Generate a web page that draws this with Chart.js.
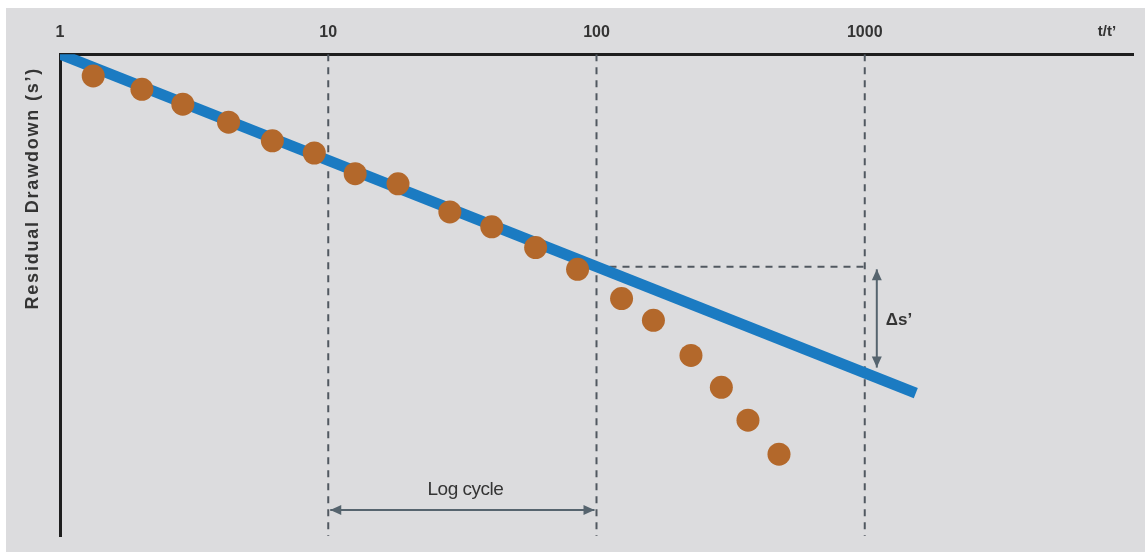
<!DOCTYPE html>
<html>
<head>
<meta charset="utf-8">
<script src="https://cdn.jsdelivr.net/npm/chart.js@4/dist/chart.umd.min.js"></script>
<style>
  html, body { margin: 0; padding: 0; background: #ffffff; }
  #wrap { width: 1145px; height: 552px; }
</style>
</head>
<body>
<div id="wrap"><canvas id="c" width="1145" height="552"></canvas></div>
<script>
// Recovery test: residual drawdown s' against t/t' (log scale)
const timeRatio        = [1.33, 2.02, 2.87, 4.25, 6.19, 8.87, 12.6, 18.2, 28.4, 40.7, 59.3, 85.0, 124, 163, 225, 292, 367, 479];
const residualDrawdown = [0.41, 0.66, 0.94, 1.28, 1.63, 1.86, 2.25, 2.44, 2.97, 3.25, 3.64, 4.05, 4.60, 5.01, 5.67, 6.27, 6.89, 7.53];

// Straight-line fit through the early data
const fitRatio    = [1, 1550];
const fitDrawdown = [0, 6.38];

// Top axis ticks
const tickValues = [1, 10, 100, 1000, 10000];
const tickLabels = ['1', '10', '100', '1000', ''];
const drawdownMax = 9.07;

// Dashed guides
const guideRatios      = [10, 100, 1000];
const levelRatio       = [100, 1000];
const levelDrawdown    = [4, 4];

// Dimension arrows
const logCycleRatio    = [10, 100];
const logCycleDrawdown = 8.58;
const deltaRatio       = 1109;
const deltaDrawdown    = [4.05, 5.9];

const FONT = '"Liberation Sans", Arial, sans-serif';
const INK = '#343434';
const GUIDE = '#515860';
const ARROW = '#56646e';

const pts = (xs, ys) => xs.map((x, i) => ({ x, y: ys[i] }));

function arrowHead(ctx, x, y, angle, len, half) {
  ctx.beginPath();
  ctx.moveTo(x, y);
  ctx.lineTo(x - len * Math.cos(angle) + half * Math.sin(angle), y - len * Math.sin(angle) - half * Math.cos(angle));
  ctx.lineTo(x - len * Math.cos(angle) - half * Math.sin(angle), y - len * Math.sin(angle) + half * Math.cos(angle));
  ctx.closePath();
  ctx.fill();
}

function doubleArrow(ctx, x1, y1, x2, y2) {
  const a = Math.atan2(y2 - y1, x2 - x1);
  ctx.save();
  ctx.strokeStyle = ARROW;
  ctx.fillStyle = ARROW;
  ctx.lineWidth = 2;
  ctx.beginPath();
  ctx.moveTo(x1, y1);
  ctx.lineTo(x2, y2);
  ctx.stroke();
  arrowHead(ctx, x2, y2, a, 11, 5);
  arrowHead(ctx, x1, y1, a + Math.PI, 11, 5);
  ctx.restore();
}

const decorations = {
  id: 'decorations',
  beforeDraw(chart) {
    const ctx = chart.ctx;
    ctx.save();
    ctx.fillStyle = '#dcdcde';
    ctx.fillRect(6, 8, chart.width - 6, chart.height - 8);
    ctx.restore();
  },
  afterDatasetsDraw(chart) {
    const { ctx, chartArea, scales: { x, y } } = chart;

    // Log cycle span
    const ly = y.getPixelForValue(logCycleDrawdown);
    doubleArrow(ctx, x.getPixelForValue(logCycleRatio[0]) + 2, ly, x.getPixelForValue(logCycleRatio[1]) - 2, ly);

    // Δs' span
    const dx = x.getPixelForValue(deltaRatio);
    doubleArrow(ctx, dx, y.getPixelForValue(deltaDrawdown[0]), dx, y.getPixelForValue(deltaDrawdown[1]));

    ctx.save();
    ctx.fillStyle = INK;
    ctx.textBaseline = 'middle';

    ctx.font = '19px ' + FONT;
    ctx.textAlign = 'center';
    ctx.letterSpacing = '-0.5px';
    const midCycle = Math.sqrt(logCycleRatio[0] * logCycleRatio[1]);
    ctx.fillText('Log cycle', x.getPixelForValue(midCycle) + 3, ly - 20);

    ctx.textAlign = 'left';
    ctx.letterSpacing = '0px';
    ctx.font = 'bold 17px ' + FONT;
    ctx.fillText('\u0394s\u2019', dx + 9, y.getPixelForValue((deltaDrawdown[0] + deltaDrawdown[1]) / 2) + 2);

    // Axis names
    ctx.font = 'bold 15px ' + FONT;
    ctx.textAlign = 'center';
    ctx.fillText('t/t\u2019', chartArea.right - 26, chartArea.top - 22);

    ctx.translate(chartArea.left - 27, chartArea.top + 134);
    ctx.rotate(-Math.PI / 2);
    ctx.font = 'bold 18px ' + FONT;
    ctx.letterSpacing = '1.8px';
    ctx.fillText('Residual Drawdown (s\u2019)', 0, 0);
    ctx.restore();
  }
};

const guideSets = guideRatios.map(g => ({
  type: 'line',
  data: [{ x: g, y: 0 }, { x: g, y: drawdownMax }],
  borderColor: GUIDE,
  borderWidth: 2,
  borderDash: [7, 6],
  pointRadius: 0,
  order: 3
}));

new Chart(document.getElementById('c'), {
  data: {
    datasets: [
      {
        type: 'scatter',
        data: pts(timeRatio, residualDrawdown),
        backgroundColor: '#b3682b',
        borderWidth: 0,
        pointRadius: 11.5,
        order: 0
      },
      {
        type: 'line',
        data: pts(fitRatio, fitDrawdown),
        borderColor: '#1b7bc2',
        borderWidth: 11,
        borderCapStyle: 'butt',
        pointRadius: 0,
        clip: 0,
        order: 1
      },
      {
        type: 'line',
        data: pts(levelRatio, levelDrawdown),
        borderColor: GUIDE,
        borderWidth: 2,
        borderDash: [7, 6],
        pointRadius: 0,
        order: 3
      },
      ...guideSets
    ]
  },
  options: {
    responsive: false,
    animation: false,
    events: [],
    layout: { padding: { left: 60, top: 11, right: 8, bottom: 16 } },
    plugins: { legend: { display: false }, tooltip: { enabled: false } },
    scales: {
      x: {
        type: 'logarithmic',
        position: 'top',
        min: 1,
        max: 10000,
        afterBuildTicks: s => { s.ticks = tickValues.map(v => ({ value: v })); },
        ticks: {
          autoSkip: false,
          maxRotation: 0,
          padding: 12,
          color: INK,
          font: { family: FONT, size: 16, weight: 'bold' },
          callback: (v, i) => tickLabels[i]
        },
        grid: { display: false, drawTicks: false },
        border: { display: true, color: '#1e1e1e', width: 3 }
      },
      y: {
        type: 'linear',
        reverse: true,
        min: 0,
        max: drawdownMax,
        ticks: { display: false },
        grid: { display: false, drawTicks: false },
        border: { display: true, color: '#1e1e1e', width: 3 }
      }
    }
  },
  plugins: [decorations]
});
</script>
</body>
</html>
